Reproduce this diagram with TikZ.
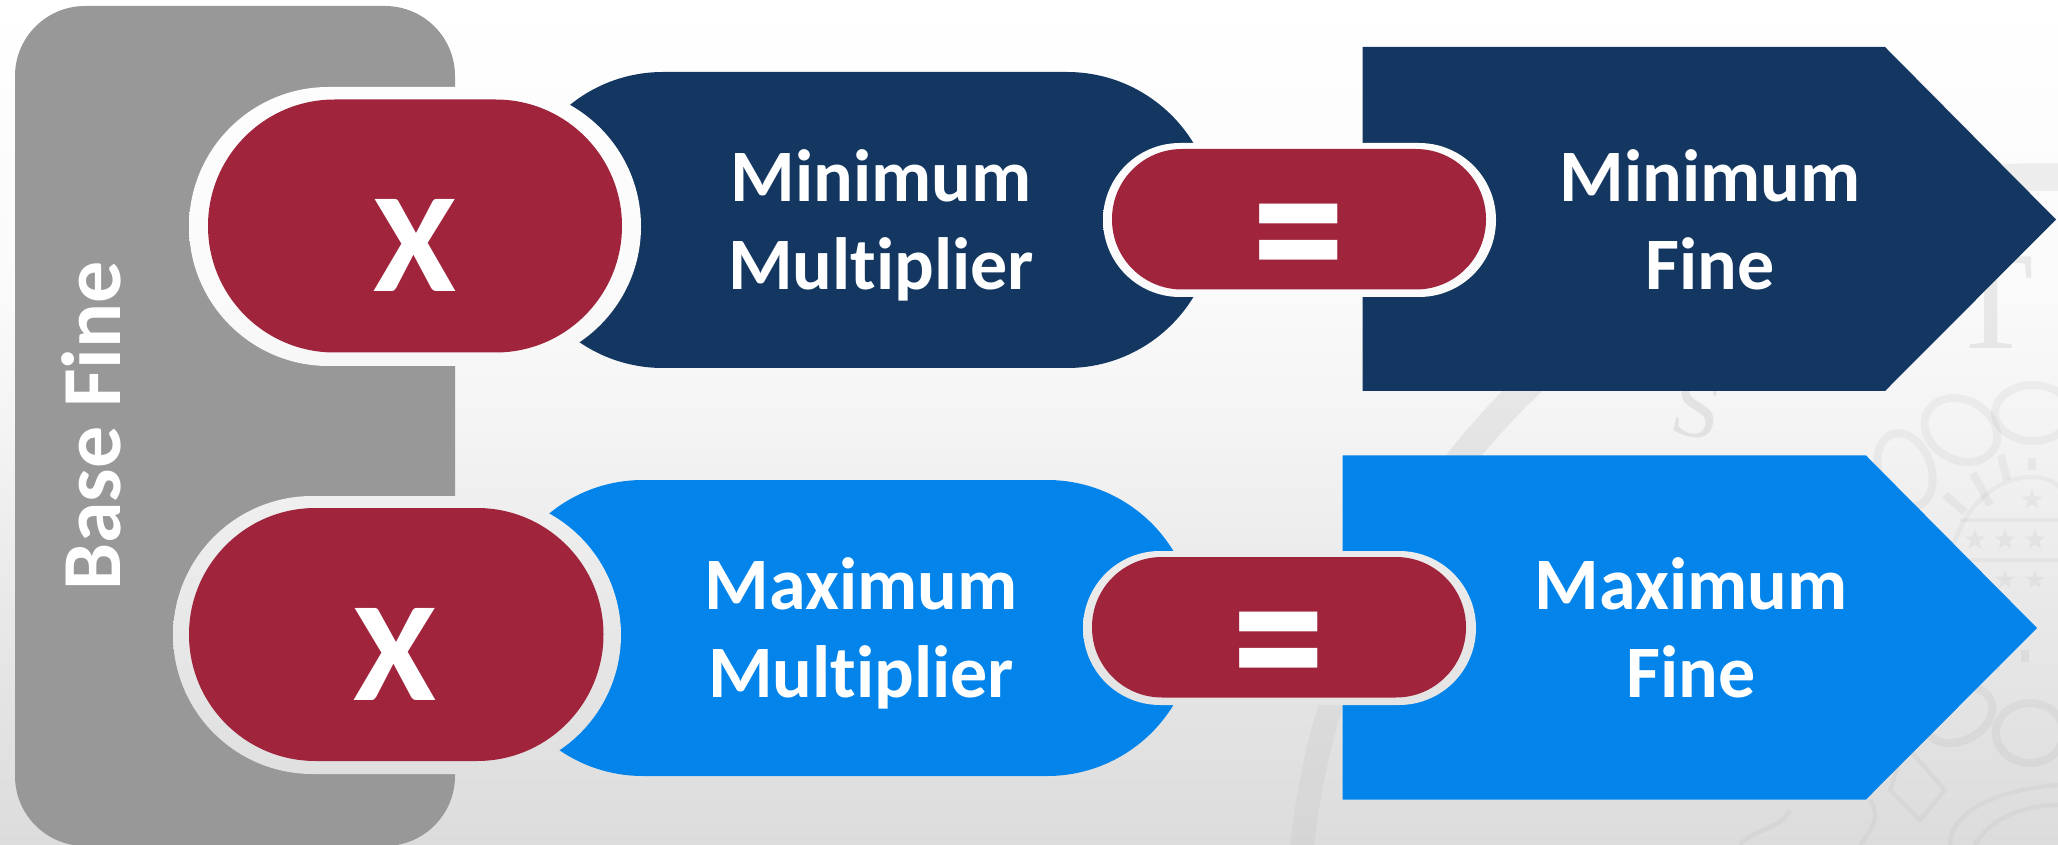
\documentclass[tikz,border=0pt]{standalone}
\usepackage{fontspec}
\setmainfont{Carlito}[Ligatures=NoCommon]
\newfontfamily\wmserif{Liberation Serif}
\definecolor{navy}{HTML}{133760}
\definecolor{sky}{HTML}{0284EB}
\definecolor{maroon}{HTML}{9F243C}
\definecolor{slab}{HTML}{989898}
\definecolor{bgA}{HTML}{FFFFFF}
\definecolor{bgB}{HTML}{FAFAFA}
\definecolor{bgC}{HTML}{F4F4F4}
\definecolor{bgD}{HTML}{E9E9E9}
\definecolor{bgE}{HTML}{DCDCDC}
\pgfdeclareverticalshading{pagebg}{100bp}{color(0bp)=(bgE); color(25bp)=(bgE); color(39.5bp)=(bgD); color(50.15bp)=(bgC); color(57.25bp)=(bgB); color(75bp)=(bgA); color(100bp)=(bgA)}
\newcommand\pagefill{\path[shading=pagebg,shading angle=0] (0,0) rectangle (2058,845);}
\newcommand\wstar[3]{\begin{scope}[shift={(#1,#2)}]\fill[black,opacity=.04] (-90:#3) -- (-54:#3*.4) -- (-18:#3) -- (18:#3*.4) -- (54:#3) -- (90:#3*.4) -- (126:#3) -- (162:#3*.4) -- (198:#3) -- (234:#3*.4) -- cycle;\end{scope}}
\tikzset{
  x=0.5pt,y=-0.5pt,
  wm/.style={draw=black,draw opacity=.04,line width=4pt,fill=none},
  wmthin/.style={draw=black,draw opacity=.03,line width=2.2pt,fill=none},
  ring/.style={path picture={\pagefill}},
  label/.style={text=white,font=\fontsize{37}{44}\selectfont\bfseries,align=center,inner sep=0pt},
  sign/.style={text=white,font=\fontsize{71}{80}\selectfont\bfseries,inner sep=0pt},
}
\begin{document}
\begin{tikzpicture}
\useasboundingbox (0,0) rectangle (2058,845);
\pagefill
% watermark seal
\begin{scope}
\clip (0,0) rectangle (2058,520);
\draw[draw=black,draw opacity=.06,line width=14pt] (2046,925) circle [radius=748];
\end{scope}
\begin{scope}
\clip (0,520) rectangle (2058,845);
\draw[draw=black,draw opacity=.03,line width=12pt] (2046,925) circle [radius=748];
\end{scope}
\node (wmS) [text=black,text opacity=.07,font=\wmserif\fontsize{44}{44}\selectfont,inner sep=0pt,rotate=-12] at (1697,409) {S};
\node (wmT) [text=black,text opacity=.07,font=\wmserif\fontsize{70}{70}\selectfont,inner sep=0pt] at (1991,303) {T};
\draw[wm] (1961,430) circle [x radius=38,y radius=30,rotate=-28];
\draw[wm] (2033,413) circle [x radius=38,y radius=28];
\draw[wm] (1905,470) circle [x radius=26,y radius=38,rotate=20];
\draw[wm] (2030,733) circle [x radius=34,y radius=30];
\draw[wm] (1958,715) circle [x radius=36,y radius=26,rotate=25];
\draw[wm] (1945,495) -- (1965,512);
\draw[wm] (1973,473) -- (1990,505);
\draw[wm] (2001,455) -- (2007,480);
\draw[wm] (2032,458) -- (2032,470);
\draw[wmthin] (1945,600) .. controls (1945,520) and (1990,477) .. (2031,477) .. controls (2050,477) and (2058,485) .. (2062,490);
\draw[wmthin] (1960,520) -- (2058,520);
\draw[wmthin] (1960,560) -- (2058,560);
\foreach \sx in {1975,2005,2035}{\wstar{\sx}{540}{11}\wstar{\sx}{580}{10}}
\wstar{2032}{500}{11}
\draw[wm] (2025,650) -- (2025,662);
\draw[wm] (2000,645) -- (1995,670);
\draw[wmthin] (1905,745) -- (1945,790) -- (1920,820) -- (1890,790) -- cycle;
\draw[wmthin] (1950,845) .. controls (1950,815) and (1990,790) .. (2058,785);
\draw[wmthin] (1975,845) .. controls (1985,825) and (2015,805) .. (2058,805);
\draw[wmthin] (1860,845) .. controls (1875,825) and (1880,815) .. (1870,800);
\draw[wmthin] (1790,810) .. controls (1780,830) and (1750,830) .. (1740,845);
% base fine slab
\fill[slab,rounded corners=35pt] (15,6) rectangle (455,846);
% multipliers
\fill[navy,rounded corners=74pt] (515,72) rectangle (1215,368);
\fill[sky,rounded corners=74pt] (495,480) rectangle (1195,776);
% arrows
\fill[navy] (1362.5,47) -- (1885,47) -- (2056,219.5) -- (1885,391) -- (1362.5,391) -- cycle;
\fill[sky] (1342.5,455.5) -- (1866,455.5) -- (2037,628) -- (1866,799.5) -- (1342.5,799.5) -- cycle;
% x pills
\path[ring,rounded corners=69.75pt] (189,87) rectangle (641,366);
\fill[maroon,rounded corners=63.25pt] (208,99.5) rectangle (622,352.5);
\path[ring,rounded corners=69.75pt] (173,496) rectangle (621,774);
\fill[maroon,rounded corners=63.25pt] (189,508) rectangle (603.5,761);
% equals pills
\path[ring,rounded corners=38.5pt] (1103,143) rectangle (1496,297);
\fill[maroon,rounded corners=35pt] (1112,149) rectangle (1486,289.5);
\path[ring,rounded corners=38.5pt] (1083,551) rectangle (1476,705);
\fill[maroon,rounded corners=35pt] (1092,557) rectangle (1466,697.5);
% text
\node (base) [label,font=\fontsize{42}{44}\selectfont\bfseries,rotate=90,anchor=base] at (120,426) {Base Fine};
\node (xa) [sign,anchor=base,xscale=1.06] at (414.5,292) {X};
\node (xb) [sign,anchor=base,xscale=1.06] at (395,700) {X};
\node (eqa) [sign,xscale=.86,font=\fontsize{108}{108}\selectfont\bfseries] at (1299,252) {=};
\node (eqb) [sign,xscale=.86,font=\fontsize{108}{108}\selectfont\bfseries] at (1279,660) {=};
\node (mina) [label] at (881,225) {Minimum\\Multiplier};
\node (maxa) [label] at (861,633) {Maximum\\Multiplier};
\node (minb) [label] at (1710,220) {Minimum\\Fine};
\node (maxb) [label] at (1691,628) {Maximum\\Fine};
\end{tikzpicture}
\end{document}
